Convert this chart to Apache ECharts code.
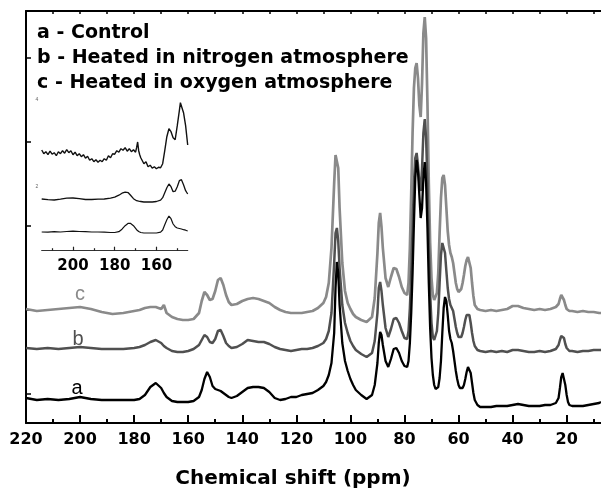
<!DOCTYPE html>
<html>
<head>
<meta charset="utf-8">
<script src="https://cdn.jsdelivr.net/npm/echarts@6/dist/echarts.min.js"></script>
<style>
html,body{margin:0;padding:0;background:#fff}
#nmr{width:601px;height:491px}
</style>
</head>
<body>
<div id="nmr"></div>
<script>
// chemical shift grid (ppm) shared by the three main spectra
var shift = [220,216,212,208,204,200,196,192,188,184,
  180,178,176,174,172,170,169,168,166,164,
  162,160,158,156,155,154,153,152,151,150,
  149,148,147,146,145,144,142,140,138,136,
  134,132,130,128,126,124,122,120,118,116,
  114,112,110,109,108,107,106,105.5,105,104.5,
  104,103,102,101,100,99,98,96,94,92,
  91,90,89.5,89,88.5,88,87,86,85,84,
  83,82,81,80,79,78.5,78,77.5,77,76.5,
  76,75.5,75,74.5,74,73.5,73,72.5,72,71.5,
  71,70.5,70,69.5,69,68.5,68,67.5,67,66.5,
  66,65.5,65,64.5,64,63.5,63,62.5,62,61.5,
  61,60.5,60,59.5,59,58.5,58,57.5,57,56.5,
  56,55.5,55,54.5,54,53,52,50,48,46,
  44,42,40,38,36,34,32,30,28,26,
  24,23,22.5,22,21.5,21,20.5,20,19.5,19,
  18,16,14,12,10,8,7.3];

// a - control
var ctrl = [25,23,24,23,24,26,24,23,23,23,
  23,24,28,36,40,35,30,26,22,21,
  21,21,22,26,33,44,51,46,37,34,
  33,32,30,28,26,25,27,31,35,36,
  36,35,31,25,23,24,26,26,28,29,
  30,33,37,41,48,60,90,135,161,150,
  118,80,62,52,44,38,33,28,24,28,
  38,60,80,91,88,78,62,56,64,74,
  75,70,62,57,56,62,80,110,150,200,
  245,263,252,228,205,215,245,261,240,195,
  140,95,65,48,38,34,33,36,45,62,
  90,115,126,122,108,92,84,80,72,62,
  52,44,38,35,34,35,38,44,51,56,
  55,50,40,30,23,18,16,16,16,17,
  17,17,18,19,18,17,17,17,18,18,
  20,25,35,46,50,48,38,28,21,18,
  17,17,17,18,19,20,21];

// b - heated in nitrogen
var nitro = [75,74,75,74,75,76,75,74,74,74,
  75,76,78,81,83,80,77,75,72,71,
  71,72,74,78,83,88,86,81,80,84,
  92,93,87,80,77,75,76,79,83,82,
  81,81,79,76,74,73,72,73,74,74,
  75,77,80,84,92,110,160,190,195,182,
  155,118,100,90,82,77,73,69,66,70,
  82,110,135,141,132,118,95,86,94,104,
  105,100,92,85,84,92,115,150,195,240,
  265,270,258,240,232,255,290,304,285,240,
  180,130,100,86,83,85,92,110,140,168,
  180,181,170,152,135,124,118,116,112,104,
  96,90,86,85,86,90,96,103,108,110,
  108,100,90,82,77,73,72,71,72,71,
  72,71,73,73,72,71,71,72,71,72,
  74,78,83,87,88,85,79,75,73,72,
  72,71,72,72,73,73,73];

// c - heated in oxygen
var oxy = [114,112,113,114,115,116,114,111,109,110,
  112,113,115,116,116,114,118,110,106,104,
  103,103,104,110,122,131,128,123,124,132,
  143,145,138,128,121,118,119,122,124,125,
  124,122,120,116,113,111,110,110,110,111,
  112,115,120,126,140,175,240,268,270,255,
  215,160,132,120,114,109,106,103,101,106,
  125,170,200,210,196,175,145,136,146,155,
  154,146,136,130,128,140,175,230,290,335,
  355,360,345,318,306,340,390,406,385,320,
  240,180,145,128,123,124,130,150,190,225,
  245,248,238,215,192,178,170,166,160,150,
  140,134,131,131,134,140,148,157,163,166,
  164,155,140,127,118,114,113,112,113,112,
  113,114,117,117,115,114,113,114,113,114,
  116,119,124,128,127,123,118,114,112,112,
  112,111,112,111,111,110,110];

// inset: 215-145 ppm
var insetShift = [215,212,209,206,203,200,197,194,191,188,
  185,182,180,178,176.5,175,173.5,172.5,171,169.5,
  169,168.5,167.5,166,164,162,160,158,157,156,
  155,154,153,152,151,150,149,148.5,148,147,
  146,145];
var insetCtrl = [18.7,18.5,19,18.7,19.2,19.5,19.2,19,18.7,18.7,
  18.5,18.2,18.2,19,21.5,25,27.4,27.4,25,21,
  20,19.2,18.2,17.7,17.7,17.7,17.7,18.5,20.7,26,
  31,34.7,32,26.7,24,22.7,22.2,22,21.7,21,
  20.5,19.7];
var insetNitro = [51.7,51,50.7,51.5,52.5,52.7,52,51.2,51.2,51.5,
  51.7,52.5,53.5,55.5,57.5,58.5,58,55.7,52,50,
  49.7,49.5,49.2,48.7,48.7,48.7,49.2,50.5,53,58,
  63,66.7,64,59,59.5,64,70,72,71,66,
  60,56.7];
// the oxygen trace of the inset is noisy, read on a finer grid
var insetOxyShift = [215,214,213,212,211,210,209,208,207,206,
  205,204,203,202,201,200,199,198,197,196,
  195,194,193,192,191,190,189,188,187,186,
  185,184,183,182,181,180,179,178,177,176,
  175,174,173,172,171,170,169.5,169,168.5,168,
  167.5,167,166,165,164,163,162,161,160,159,
  158,157,156,155,154,153,152,151,150,149,
  148.5,148,147,146,145];
var insetOxy = [100.7,97,99,96,99.5,96.5,98,95,99,97,
  100,97.5,101,98,100,96,98.5,95,97,94,
  96,92.5,94.5,90.5,92,89,91,88.5,90.5,89,
  92,90.5,95,93,97,96.5,100,98.5,102,100.5,
  103,99.5,102,99,101,98.5,103,108.7,100,96,
  93,91.5,87,89,84,85.5,82.5,84,82,83.5,
  83,87,100,114,122,119,113,111,125,140,
  148,148,138,125,105.7];

var majorTicks = [20,40,60,80,100,120,140,160,180,200,220];
var minorTicks = [10,30,50,70,90,110,130,150,170,190,210];
var topTicks = [10,20,30,40,50,60,70,80,90,100,110,120,130,140,150,160,170,180,190,200,210,220];
var yTicks = [29,113,197,281,365];
var insetMajor = [160,180,200];
var insetMinor = [150,170,190,210];

var legendLines = ['a - Control', 'b - Heated in nitrogen atmosphere', 'c - Heated in oxygen atmosphere'];

function pairs(xs, ys) {
  var out = [];
  for (var i = 0; i < xs.length; i++) out.push([xs[i], ys[i]]);
  return out;
}

var boldFont = 'DejaVu Sans';
var myChart = echarts.init(document.getElementById('nmr'));

var option = {
  animation: false,
  backgroundColor: '#fff',
  grid: [
    {left: 26, right: 0, top: 11, bottom: 68, outerBoundsMode: 'none', containLabel: false},
    {left: 41.7, width: 146, top: 90, height: 160.7, outerBoundsMode: 'none', containLabel: false}
  ],
  xAxis: [
    {
      gridIndex: 0, type: 'value', min: 7.3, max: 220, inverse: true, position: 'bottom',
      axisLine: {onZero: false, lineStyle: {color: '#000', width: 2}},
      axisTick: {inside: true, length: 8, customValues: majorTicks, lineStyle: {color: '#000', width: 2}},
      axisLabel: {customValues: majorTicks, margin: 9, color: '#000', fontFamily: boldFont, fontWeight: 'bold', fontSize: 16},
      splitLine: {show: false},
      name: 'Chemical shift (ppm)', nameLocation: 'middle', nameGap: 46,
      nameTextStyle: {color: '#000', fontFamily: boldFont, fontWeight: 'bold', fontSize: 20, padding: [0, 41, 0, 0]}
    },
    {
      gridIndex: 0, type: 'value', min: 7.3, max: 220, inverse: true, position: 'bottom',
      axisLine: {show: false, onZero: false},
      axisTick: {inside: true, length: 4, customValues: minorTicks, lineStyle: {color: '#000', width: 2}},
      axisLabel: {show: false}, splitLine: {show: false}
    },
    {
      gridIndex: 0, type: 'value', min: 7.3, max: 220, inverse: true, position: 'top',
      axisLine: {onZero: false, lineStyle: {color: '#000', width: 2}},
      axisTick: {inside: true, length: 3, customValues: topTicks, lineStyle: {color: '#000', width: 1.5}},
      axisLabel: {show: false}, splitLine: {show: false}
    },
    {
      gridIndex: 1, type: 'value', min: 145, max: 215, inverse: true, position: 'bottom',
      axisLine: {onZero: false, lineStyle: {color: '#333', width: 1.2}},
      axisTick: {inside: true, length: 4, customValues: insetMajor, lineStyle: {color: '#222', width: 1.2}},
      axisLabel: {customValues: insetMajor, margin: 8, color: '#000', fontFamily: boldFont, fontWeight: 'bold', fontSize: 15},
      splitLine: {show: false}
    },
    {
      gridIndex: 1, type: 'value', min: 145, max: 215, inverse: true, position: 'bottom',
      axisLine: {show: false, onZero: false},
      axisTick: {inside: true, length: 2.5, customValues: insetMinor, lineStyle: {color: '#222', width: 1.2}},
      axisLabel: {show: false}, splitLine: {show: false}
    }
  ],
  yAxis: [
    {
      gridIndex: 0, type: 'value', min: 0, max: 412,
      axisLine: {show: true, onZero: false, lineStyle: {color: '#000', width: 2}},
      axisTick: {show: true, inside: true, length: 5, customValues: yTicks, lineStyle: {color: '#000', width: 1.5}},
      axisLabel: {show: false}, splitLine: {show: false}
    },
    {gridIndex: 1, type: 'value', min: 0, max: 160.7, show: false}
  ],
  series: [
    {type: 'line', xAxisIndex: 0, yAxisIndex: 0, data: pairs(shift, oxy), showSymbol: false,
      lineStyle: {color: '#8a8a8a', width: 2.7}},
    {type: 'line', xAxisIndex: 0, yAxisIndex: 0, data: pairs(shift, nitro), showSymbol: false,
      lineStyle: {color: '#505050', width: 2.5}},
    {type: 'line', xAxisIndex: 0, yAxisIndex: 0, data: pairs(shift, ctrl), showSymbol: false,
      lineStyle: {color: '#000', width: 2.3}},
    {type: 'line', xAxisIndex: 3, yAxisIndex: 1, data: pairs(insetOxyShift, insetOxy), showSymbol: false,
      lineStyle: {color: '#111', width: 1.4}},
    {type: 'line', xAxisIndex: 3, yAxisIndex: 1, data: pairs(insetShift, insetNitro), showSymbol: false,
      lineStyle: {color: '#111', width: 1.3}},
    {type: 'line', xAxisIndex: 3, yAxisIndex: 1, data: pairs(insetShift, insetCtrl), showSymbol: false,
      lineStyle: {color: '#111', width: 1.2}}
  ],
  graphic: [
    {type: 'text', left: 37, top: 24, style: {text: legendLines[0], fill: '#000', font: 'bold 19px "DejaVu Sans"'}},
    {type: 'text', left: 37, top: 49, style: {text: legendLines[1], fill: '#000', font: 'bold 19px "DejaVu Sans"'}},
    {type: 'text', left: 37, top: 74, style: {text: legendLines[2], fill: '#000', font: 'bold 19px "DejaVu Sans"'}},
    {type: 'text', x: 80, y: 294, style: {text: 'c', fill: '#8a8a8a', font: '20px "Liberation Sans"', align: 'center', verticalAlign: 'middle'}},
    {type: 'text', x: 78, y: 339, style: {text: 'b', fill: '#505050', font: '20px "Liberation Sans"', align: 'center', verticalAlign: 'middle'}},
    {type: 'text', x: 77, y: 388, style: {text: 'a', fill: '#000', font: '20px "Liberation Sans"', align: 'center', verticalAlign: 'middle'}},
    {type: 'text', x: 37, y: 100, style: {text: '4', fill: '#666', font: '5px "Liberation Sans"', align: 'center', verticalAlign: 'middle'}},
    {type: 'text', x: 37, y: 187, style: {text: '2', fill: '#666', font: '5px "Liberation Sans"', align: 'center', verticalAlign: 'middle'}}
  ]
};

myChart.setOption(option);
</script>
</body>
</html>
